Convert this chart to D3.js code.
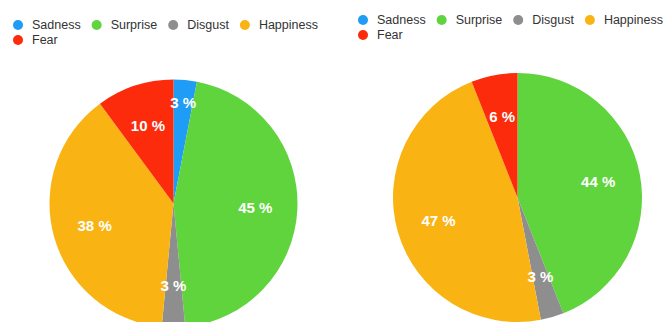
<!DOCTYPE html>
<html>
<head>
<meta charset="utf-8">
<script src="https://cdn.jsdelivr.net/npm/d3@7"></script>
<style>
  html, body { margin: 0; padding: 0; background: #fff; }
  svg { display: block; }
</style>
</head>
<body>
<svg id="chart" width="667" height="322"></svg>
<script>
// categories and values (percent)
const emotions = ["Sadness", "Surprise", "Disgust", "Happiness", "Fear"];
const leftValues = [3, 45, 3, 38, 10];
const rightValues = [0, 44, 3, 47, 6];
const emotionColors = ["#1e9cf6", "#60d43c", "#8e8e8e", "#f9b414", "#fb2b0b"];

const svg = d3.select("#chart");
const color = d3.scaleOrdinal().domain(emotions).range(emotionColors);

// one pie panel: legend at top, pie below
function drawPanel(values, opts) {
    const g = svg.append("g").attr("class", "panel");

    // legend, 4 items in first row, Fear wraps
    const legend = g.append("g")
        .attr("transform", `translate(${opts.legendX},${opts.legendY})`)
        .style("font", "12.5px 'Liberation Sans', Arial, sans-serif");
    let x = 0, row = 0;
    emotions.forEach((name, i) => {
        if (i === 4) { x = 0; row = 1; }
        const item = legend.append("g").attr("transform", `translate(${x},${row * 15})`);
        item.append("circle").attr("r", 5).attr("fill", color(name));
        const t = item.append("text")
            .attr("x", 14)
            .attr("dy", "0.35em")
            .attr("fill", "#333")
            .text(name);
        x += 14 + t.node().getComputedTextLength() + 16;
    });

    const pie = d3.pie().sort(null).value(d => d.value);
    const arcs = pie(emotions.map((e, i) => ({name: e, value: values[i]})));

    const arc = d3.arc().innerRadius(0).outerRadius(opts.r);
    const labelArc = d3.arc().innerRadius(opts.r * 0.66).outerRadius(opts.r * 0.66);

    const pg = g.append("g").attr("transform", `translate(${opts.cx},${opts.cy})`);
    pg.selectAll("path")
        .data(arcs.filter(d => d.data.value > 0))
        .join("path")
        .attr("d", arc)
        .attr("fill", d => color(d.data.name));

    pg.selectAll("text")
        .data(arcs.filter(d => d.data.value > 0))
        .join("text")
        .attr("transform", d => {
            let [lx, ly] = labelArc.centroid(d);
            // thin slice at the very top: the label is pushed outward
            if (d.endAngle - d.startAngle < 0.25 && d.startAngle < 0.1) {
                const k = 0.82 / 0.66;
                lx *= k; ly *= k;
            }
            return `translate(${lx},${ly})`;
        })
        .attr("text-anchor", "middle")
        .attr("dy", "0.35em")
        .attr("fill", "#fff")
        .style("font", "bold 15px 'Liberation Sans', Arial, sans-serif")
        .text(d => d.data.value + " %");
}

drawPanel(leftValues, {legendX: 18, legendY: 25, cx: 173.5, cy: 203.5, r: 124});
drawPanel(rightValues, {legendX: 363, legendY: 20, cx: 517.5, cy: 197.5, r: 124.5});
</script>
</body>
</html>
